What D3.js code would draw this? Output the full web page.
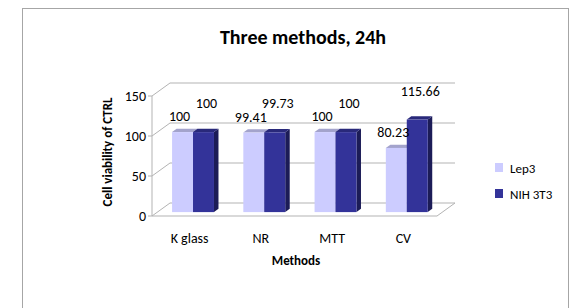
<!DOCTYPE html>
<html>
<head>
<meta charset="utf-8">
<script src="https://cdn.jsdelivr.net/npm/d3@7"></script>
<style>
  body { margin: 0; background: #fff; }
  svg text { font-family: Carlito, "Open Sans", sans-serif; fill: #000; }
</style>
</head>
<body>
<svg id="chart" width="572" height="308"></svg>
<script>
// data
const categories = ["K glass", "NR", "MTT", "CV"];
const seriesNames = ["Lep3", "NIH 3T3"];
const lep3 = [100, 99.41, 100, 80.23];
const nih3t3 = [100, 99.73, 100, 115.66];
const yTicks = [0, 50, 100, 150];

const svg = d3.select("#chart");

// chart frame
svg.append("rect")
    .attr("x", 22.5).attr("y", 8.5)
    .attr("width", 546).attr("height", 320)
    .attr("fill", "#fff")
    .attr("stroke", "#a6a6a6");

// 3D-ish plot box: front face + depth offset
const left = 152, right = 437, depthX = 18, depthY = -13;
const x0 = d3.scaleBand().domain(categories).range([left, right]);
const x1 = d3.scaleBand().domain(seriesNames).range([0, x0.bandwidth()]).paddingOuter(0.7);
const y = d3.scaleLinear().domain([0, 150]).range([216, 96]);

// shift a point back into the box by depth z (0 = front, 1 = back)
const px = (x, z) => x + z * depthX;
const py = (v, z) => y(v) + z * depthY;

const gridColor = "#b3b3b3";
const grid = svg.append("g").attr("fill", "none").attr("stroke", gridColor).attr("stroke-width", 1);

// gridlines over the side wall and the back wall
yTicks.forEach(v => {
    grid.append("polyline")
        .attr("points", [[px(left, 0), py(v, 0)], [px(left, 1), py(v, 1)], [px(right, 1), py(v, 1)]].join(" "));
});
// floor
grid.append("polyline")
    .attr("points", [[px(left, 0), py(0, 0)], [px(right, 0), py(0, 0)], [px(right, 1), py(0, 1)]].join(" "));
// value axis
grid.append("line")
    .attr("x1", left).attr("x2", left)
    .attr("y1", y(0)).attr("y2", y(150));
yTicks.forEach(v => {
    grid.append("line")
        .attr("x1", left - 4).attr("x2", left)
        .attr("y1", y(v)).attr("y2", y(v));
});

// tick labels
svg.append("g").selectAll("text")
    .data(yTicks)
    .join("text")
    .attr("x", 146)
    .attr("y", d => y(d))
    .attr("dy", "0.35em")
    .attr("text-anchor", "end")
    .attr("font-size", "14px")
    .text(d => d);

// bars
const zFront = 0.3, zBack = 0.55;
const colors = {
    "Lep3": { front: "#ccccff", top: "#a3a3cc", side: "#9d9dc4" },
    "NIH 3T3": { front: "#333399", top: "#29297a", side: "#1c1c57" }
};
const rows = [];
categories.forEach((c, i) => {
    rows.push({ cat: c, s: "Lep3", v: lep3[i] });
    rows.push({ cat: c, s: "NIH 3T3", v: nih3t3[i] });
});

const bars = svg.append("g");
rows.forEach(d => {
    const xa = x0(d.cat) + x1(d.s);
    const xb = xa + x1.bandwidth();
    const col = colors[d.s];
    const g = bars.append("g");
    // side face
    g.append("polygon")
        .attr("points", [[px(xb, zFront), py(0, zFront)], [px(xb, zBack), py(0, zBack)],
                         [px(xb, zBack), py(d.v, zBack)], [px(xb, zFront), py(d.v, zFront)]].join(" "))
        .attr("fill", col.side);
    // top face
    g.append("polygon")
        .attr("points", [[px(xa, zFront), py(d.v, zFront)], [px(xb, zFront), py(d.v, zFront)],
                         [px(xb, zBack), py(d.v, zBack)], [px(xa, zBack), py(d.v, zBack)]].join(" "))
        .attr("fill", col.top);
    // front face
    g.append("rect")
        .attr("x", px(xa, zFront))
        .attr("y", py(d.v, zFront))
        .attr("width", x1.bandwidth())
        .attr("height", py(0, zFront) - py(d.v, zFront))
        .attr("fill", col.front);
});

// value labels (second series lifted so they do not collide)
svg.append("g").selectAll("text")
    .data(rows)
    .join("text")
    .attr("x", d => px(x0(d.cat) + x1(d.s) + x1.bandwidth() / 2, zFront) + (d.s === "Lep3" ? -3 : 3))
    .attr("y", d => py(d.v, zFront) - (d.s === "Lep3" ? 11 : 24))
    .attr("text-anchor", "middle")
    .attr("font-size", "14px")
    .text(d => d.v);

// category labels
svg.append("g").selectAll("text")
    .data(categories)
    .join("text")
    .attr("x", d => x0(d) + x0.bandwidth() / 2 + 2)
    .attr("y", 243)
    .attr("text-anchor", "middle")
    .attr("font-size", "14px")
    .text(d => d);

// titles
svg.append("text")
    .attr("x", 303).attr("y", 44)
    .attr("text-anchor", "middle")
    .attr("font-size", "20px")
    .attr("font-weight", "bold")
    .text("Three methods, 24h");

svg.append("text")
    .attr("x", 296).attr("y", 265)
    .attr("text-anchor", "middle")
    .attr("font-size", "13px")
    .attr("font-weight", "bold")
    .text("Methods");

svg.append("text")
    .attr("transform", "translate(112,152) rotate(-90)")
    .attr("text-anchor", "middle")
    .attr("font-size", "13px")
    .attr("font-weight", "bold")
    .text("Cell viability of CTRL");

// legend
const legend = svg.append("g").selectAll("g")
    .data(seriesNames)
    .join("g")
    .attr("transform", (d, i) => `translate(495,${163 + i * 26})`);
legend.append("rect")
    .attr("width", 8).attr("height", 9)
    .attr("fill", d => colors[d].front);
legend.append("text")
    .attr("x", 15).attr("y", 9.5)
    .attr("font-size", "13px")
    .text(d => d);
</script>
</body>
</html>
